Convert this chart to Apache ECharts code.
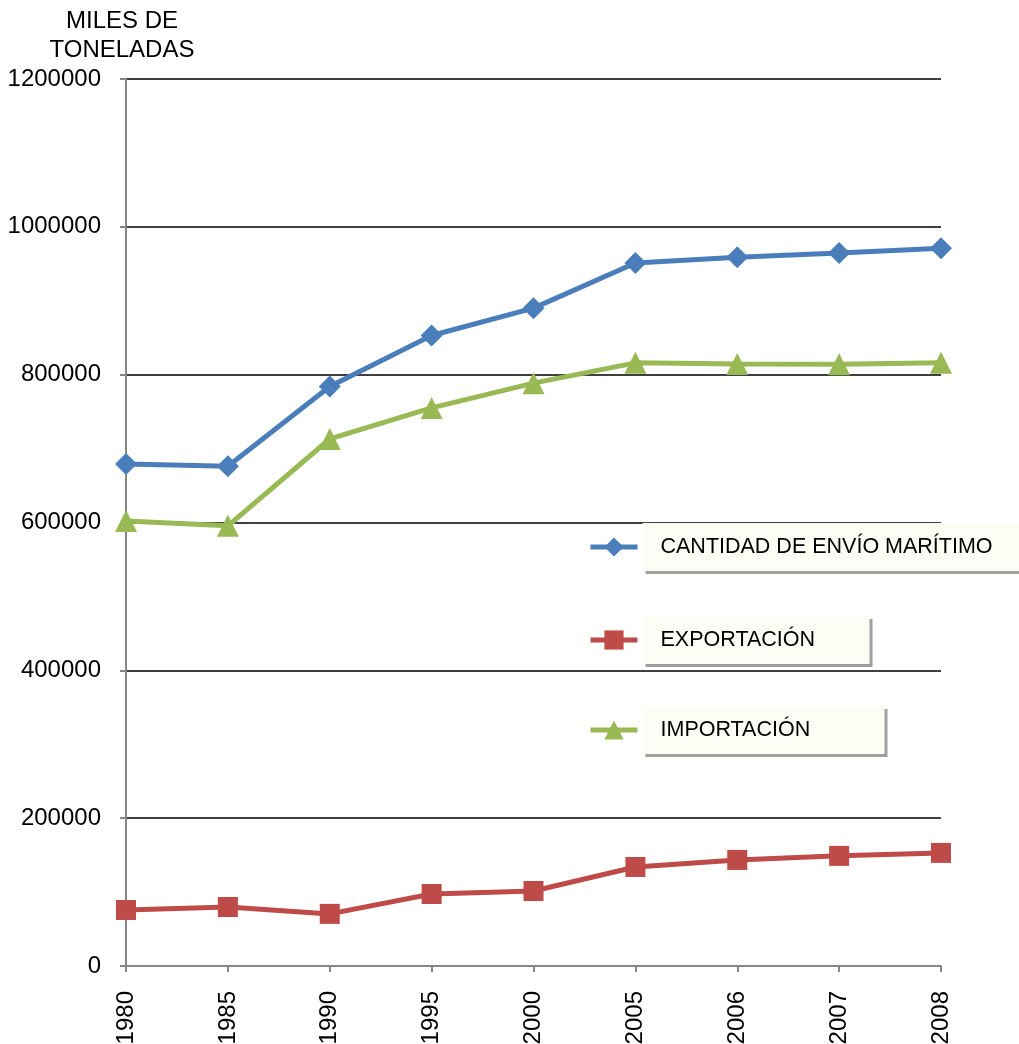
<!DOCTYPE html>
<html><head><meta charset="utf-8">
<script src="https://cdn.jsdelivr.net/npm/echarts@6/dist/echarts.min.js"></script>
<style>html,body{margin:0;padding:0;background:#fff}#c{width:1019px;height:1044px}</style>
</head><body><div id="c"></div>
<script>
const years = ['1980','1985','1990','1995','2000','2005','2006','2007','2008'];
const envio = [679000, 676000, 784000, 853000, 890000, 951000, 959000, 964500, 971000];
const exportacion = [75800, 79800, 70500, 97400, 101500, 134000, 143500, 149000, 153000];
const importacion = [602000, 595500, 713000, 755000, 788500, 816000, 814500, 814000, 816000];
const yTicks = [0, 200000, 400000, 600000, 800000, 1000000, 1200000];
const names = ['CANTIDAD DE ENVÍO MARÍTIMO', 'EXPORTACIÓN', 'IMPORTACIÓN'];
const colors = ['#4a7ebb', '#be4b48', '#98b954'];

const chart = echarts.init(document.getElementById('c'));
const FONT = 'Liberation Sans, Arial, sans-serif';
function legendFor(i, top, w) {
  return {
    orient: 'vertical', left: 588, top: top, padding: 0,
    data: [names[i]], itemWidth: 47, itemHeight: 24, itemGap: 0,
    selectedMode: false,
    lineStyle: { width: 5 },
    textStyle: {
      fontFamily: FONT, fontSize: 21.5, color: '#000',
      backgroundColor: '#fdfdf6', width: w, height: 48, lineHeight: 48,
      padding: [0, 0, 0, 18],
      shadowColor: '#a0a0a0', shadowOffsetX: 3, shadowOffsetY: 3, shadowBlur: 0
    }
  };
}
chart.setOption({
  animation: false,
  color: colors,
  grid: { left: 126, right: 78, top: 79, bottom: 78, containLabel: false, outerBoundsMode: 'none' },
  title: {
    text: 'MILES DE\nTONELADAS', left: 117, top: 2, textAlign: 'center',
    textStyle: { fontFamily: FONT, fontSize: 24, fontWeight: 'normal', color: '#000', lineHeight: 29 }
  },
  legend: [legendFor(0, 523, 359), legendFor(1, 616, 209), legendFor(2, 706, 224)],
  xAxis: {
    type: 'category', data: years, boundaryGap: false,
    axisLine: { lineStyle: { color: '#868686', width: 2 } },
    axisTick: { show: true, length: 6, alignWithLabel: true, lineStyle: { color: '#868686', width: 2 } },
    axisLabel: { rotate: 90, margin: 25, fontFamily: FONT, fontSize: 24, color: '#000', interval: 0 },
    splitLine: { show: false }
  },
  yAxis: {
    type: 'value', min: 0, max: 1200000, interval: 200000,
    axisLine: { show: true, lineStyle: { color: '#868686', width: 2 } },
    axisTick: { show: true, length: 6, lineStyle: { color: '#868686', width: 2 } },
    axisLabel: { margin: 25, fontFamily: FONT, fontSize: 24, color: '#000',
      formatter: v => yTicks.includes(v) ? String(v) : '' },
    splitLine: { show: true, lineStyle: { color: '#000', width: 1.5 } }
  },
  series: [
    { name: names[0], type: 'line', data: envio, symbol: 'diamond', symbolSize: 22,
      lineStyle: { width: 5, color: colors[0] }, itemStyle: { color: colors[0] }, z: 3 },
    { name: names[1], type: 'line', data: exportacion, symbol: 'rect', symbolSize: 20,
      lineStyle: { width: 5, color: colors[1] }, itemStyle: { color: colors[1] }, z: 3 },
    { name: names[2], type: 'line', data: importacion, symbol: 'triangle', symbolSize: 22,
      lineStyle: { width: 5, color: colors[2] }, itemStyle: { color: colors[2] }, z: 3 }
  ]
});
</script></body></html>
